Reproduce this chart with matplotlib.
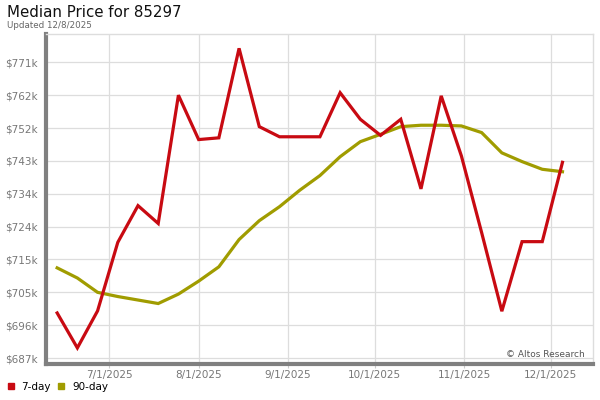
import matplotlib.pyplot as plt
import matplotlib.dates as mdates
import numpy as np
from datetime import datetime

# Datos
fechas = ['2025-06-13', '2025-06-20', '2025-06-27', '2025-07-04', '2025-07-11',
          '2025-07-18', '2025-07-25', '2025-08-01', '2025-08-08', '2025-08-15',
          '2025-08-22', '2025-08-29', '2025-09-05', '2025-09-12', '2025-09-19',
          '2025-09-26', '2025-10-03', '2025-10-10', '2025-10-17', '2025-10-24',
          '2025-10-31', '2025-11-07', '2025-11-14', '2025-11-21', '2025-11-28',
          '2025-12-05']
precio_7d = [699.9, 689.9, 700.5, 720.1, 730.6, 725.5, 762.2, 749.5, 750.0, 775.6,
             753.2, 750.3, 750.3, 750.3, 762.9, 755.3, 750.7, 755.3, 735.4, 762.0,
             744.8, 722.9, 700.4, 720.3, 720.3, 743.0]
precio_90d = [712.8, 709.9, 705.8, 704.6, 703.6, 702.6, 705.3, 709.0, 713.1, 720.9,
              726.3, 730.3, 735.0, 739.2, 744.6, 748.9, 751.0, 753.2, 753.6, 753.6,
              753.4, 751.5, 745.7, 743.2, 741.0, 740.3]
y_ticks = [687.0, 696.4, 705.8, 715.2, 724.6, 734.0, 743.4, 752.8, 762.2, 771.6]
y_labels = ['$687k', '$696k', '$705k', '$715k', '$724k', '$734k',
            '$743k', '$752k', '$762k', '$771k']
x_ticks = ['2025-07-01', '2025-08-01', '2025-09-01', '2025-10-01', '2025-11-01', '2025-12-01']
x_labels = ['7/1/2025', '8/1/2025', '9/1/2025', '10/1/2025', '11/1/2025', '12/1/2025']

fx = [datetime.strptime(f, '%Y-%m-%d') for f in fechas]
tx = [datetime.strptime(f, '%Y-%m-%d') for f in x_ticks]

rojo = '#c80a12'
oliva = '#a09c00'
gris = '#777777'

fig = plt.figure(figsize=(6, 4), dpi=100)
ax = fig.add_axes([0.076, 0.09, 0.912, 0.825])

ax.plot(fx, precio_90d, color=oliva, lw=2.3, solid_joinstyle='miter', zorder=3)
ax.plot(fx, precio_7d, color=rojo, lw=2.3, solid_joinstyle='miter', zorder=4)

ax.set_xlim(datetime(2025, 6, 9), datetime(2025, 12, 15, 12))
ax.set_ylim(685.3, 779.7)

ax.set_yticks(y_ticks)
ax.set_yticklabels(y_labels)
ax.set_xticks(tx)
ax.set_xticklabels(x_labels)
ax.tick_params(axis='both', labelsize=7.5, labelcolor=gris, color='#cccccc', length=3)
ax.tick_params(axis='x', pad=1.5)
ax.tick_params(axis='y', length=0, pad=6)

ax.grid(True, color='#dddddd', lw=0.9)
ax.set_axisbelow(True)

for s in ['top', 'right']:
    ax.spines[s].set_color('#dddddd')
    ax.spines[s].set_linewidth(1)
for s in ['left', 'bottom']:
    ax.spines[s].set_color('#808080')
    ax.spines[s].set_linewidth(3)

# Títulos
fig.text(0.012, 0.968, 'Median Price for 85297', fontsize=10.8, color='#111111', va='center')
fig.text(0.012, 0.937, 'Updated 12/8/2025', fontsize=6.3, color='#666666', va='center')

# Marca de agua
ax.text(0.985, 0.015, '© Altos Research', transform=ax.transAxes, ha='right', va='bottom',
        fontsize=6.5, color='#555555')

# Leyenda
fig.patches.append(plt.Rectangle((0.013, 0.027), 0.01, 0.015, color=rojo, transform=fig.transFigure))
fig.text(0.036, 0.033, '7-day', fontsize=7.5, va='center')
fig.patches.append(plt.Rectangle((0.097, 0.027), 0.01, 0.015, color=oliva, transform=fig.transFigure))
fig.text(0.121, 0.033, '90-day', fontsize=7.5, va='center')

fig.savefig('out.png', dpi=100)
